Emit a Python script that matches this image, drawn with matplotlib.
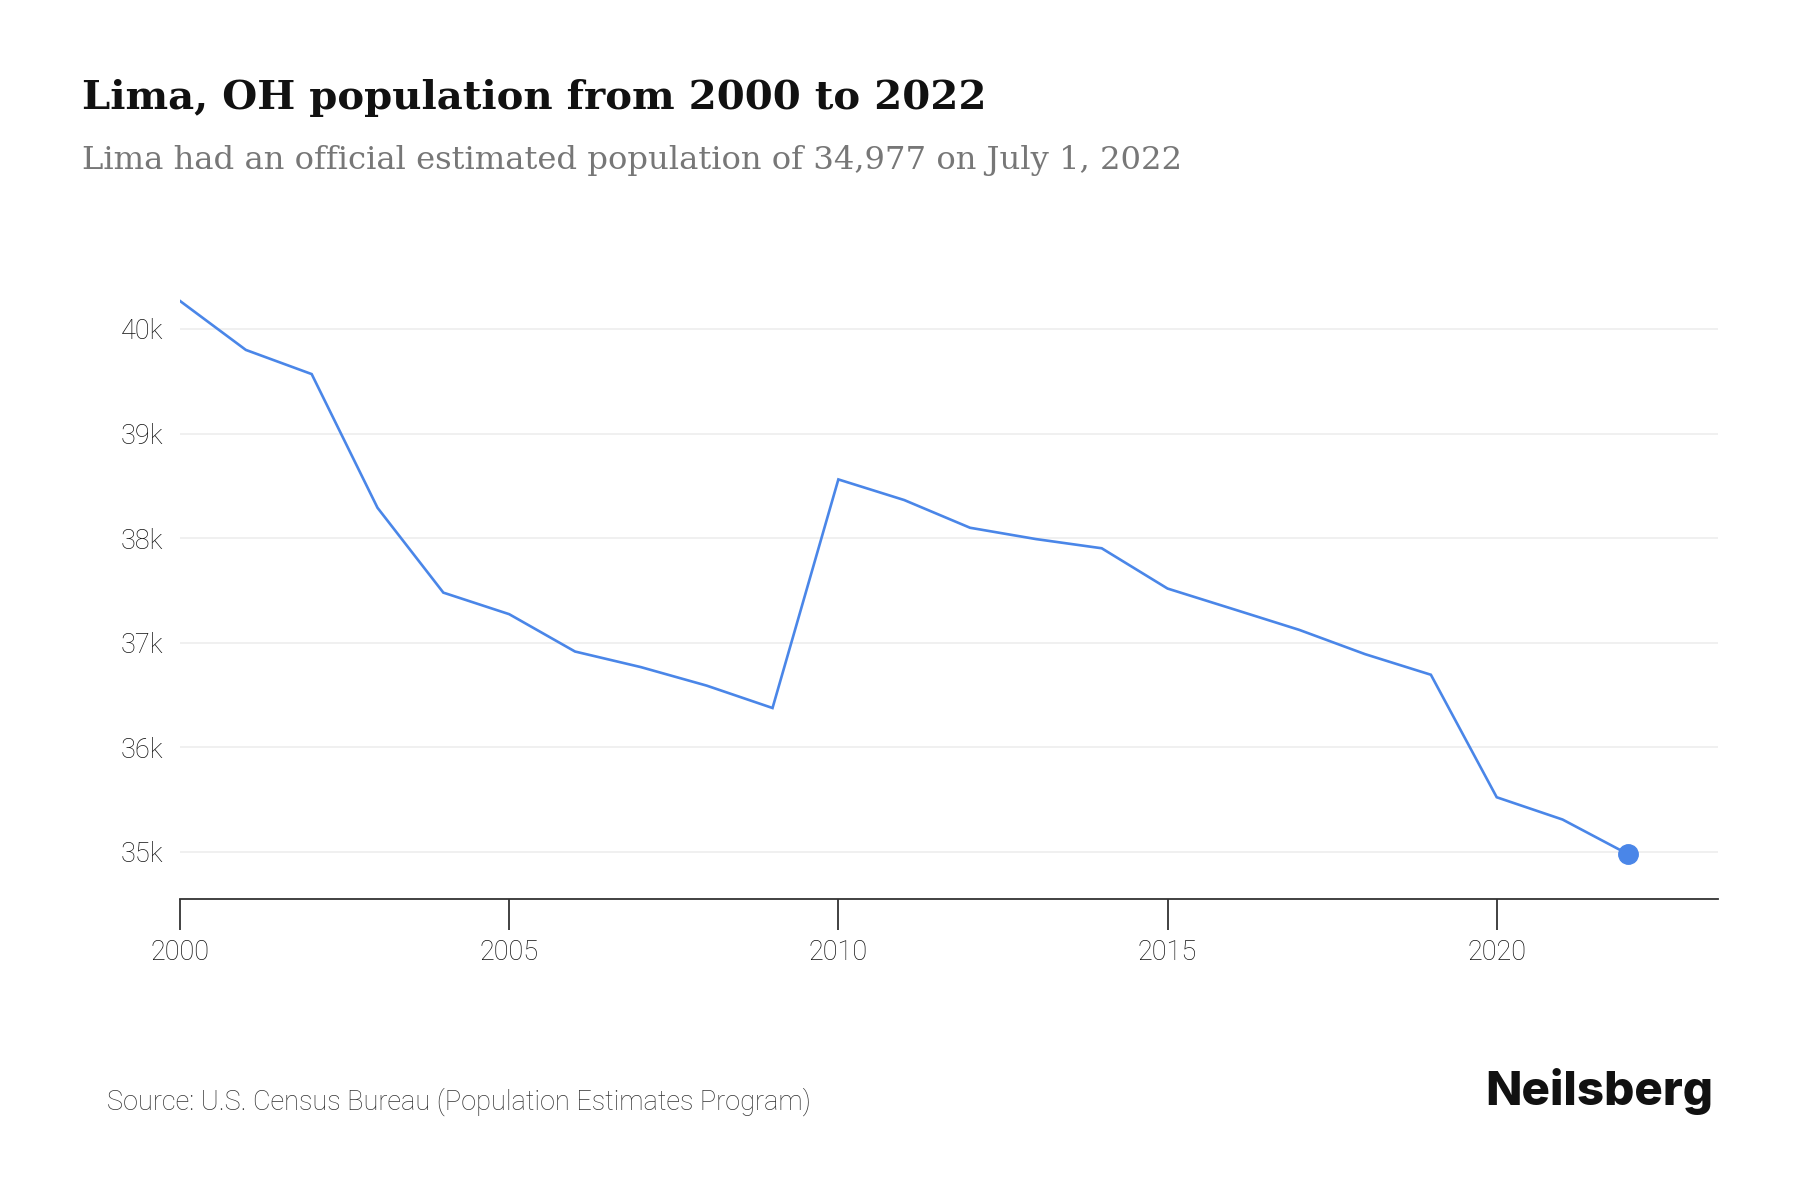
import matplotlib
matplotlib.use("Agg")
import matplotlib.pyplot as plt
from matplotlib.ticker import FuncFormatter

# Lima, OH population estimates
years = list(range(2000, 2023))
population = [40267, 39799, 39568, 38290, 37479, 37273, 36916, 36767, 36590, 36376,
              38561, 38364, 38099, 37991, 37903, 37518, 37321, 37123, 36891, 36694,
              35523, 35310, 34977]
y_ticks = [35000, 36000, 37000, 38000, 39000, 40000]
x_ticks = [2000, 2005, 2010, 2015, 2020]

title = "Lima, OH population from 2000 to 2022"
subtitle = "Lima had an official estimated population of 34,977 on July 1, 2022"
source = "Source: U.S. Census Bureau (Population Estimates Program)"

line_color = "#4a86e8"

fig = plt.figure(figsize=(18, 12), dpi=100)
ax = fig.add_axes([0.1, 0.2508, 0.8544, 0.51])

ax.plot(years, population, color=line_color, linewidth=1.9, solid_joinstyle="miter")
ax.plot(years[-1], population[-1], "o", color=line_color, markersize=14)

ax.set_xlim(2000, 2023.36)
ax.set_ylim(34550, 40400)

ax.set_yticks(y_ticks)
ax.yaxis.set_major_formatter(FuncFormatter(lambda v, p: f"{int(v / 1000)}k"))
ax.set_xticks(x_ticks)

for s in ["top", "right", "left"]:
    ax.spines[s].set_visible(False)
ax.spines["bottom"].set_color("#333333")
ax.spines["bottom"].set_linewidth(1.3)

ax.grid(axis="y", color="#eeeeee", linewidth=1.2)
ax.set_axisbelow(True)

ax.tick_params(axis="y", length=0, pad=12, labelsize=19.5, labelcolor="#111111")
ax.tick_params(axis="x", length=22, width=1.3, color="#333333", direction="out",
               pad=7, labelsize=19.5, labelcolor="#111111")
for lbl in ax.get_xticklabels() + ax.get_yticklabels():
    lbl.set_fontfamily("Roboto")
    lbl.set_fontweight("light")

fig.text(0.0453, 0.909, title, fontsize=29, fontweight="bold",
         family="DejaVu Serif", color="#111111", va="baseline")
fig.text(0.0453, 0.859, subtitle, fontsize=23.2, family="DejaVu Serif",
         color="#777777", va="baseline")
fig.text(0.0595, 0.075, source, fontsize=19.5, family="Roboto", fontweight="light",
         color="#333333", va="baseline")
fig.text(0.952, 0.079, "Neilsberg", fontsize=34.2, family="Inter", fontweight="heavy",
         color="#111111", va="baseline", ha="right")

fig.savefig("out.png", dpi=100, facecolor="white")
